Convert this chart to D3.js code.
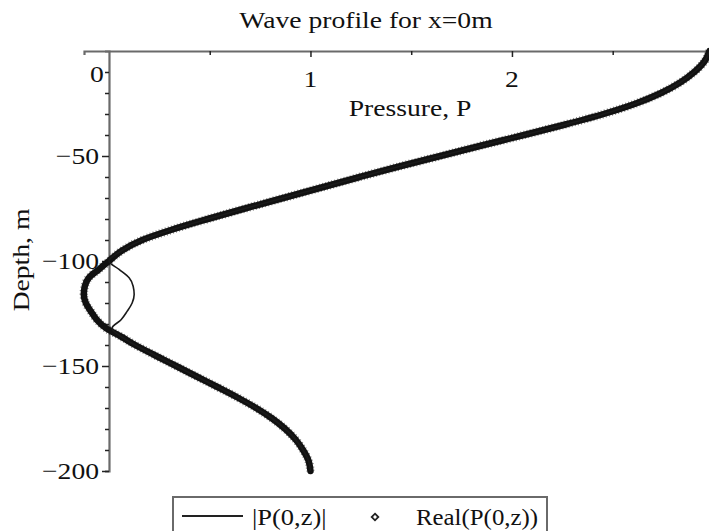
<!DOCTYPE html>
<html>
<head>
<meta charset="utf-8">
<script src="https://cdn.jsdelivr.net/npm/d3@7"></script>
<style>
  body { margin: 0; background: #fff; }
  text { font-family: "Liberation Serif", "Times New Roman", serif; fill: #111; }
</style>
</head>
<body>
<svg id="chart" width="709" height="531"></svg>
<script>
// Depth (m) and pressure
const depths = [0, -5, -10, -15, -20, -25, -30, -35, -40, -45, -50, -55, -60, -65, -70, -75, -80, -85, -90, -95, -100,
  -104, -108, -112, -116, -120, -124, -128, -132, -136, -140, -145, -150, -155, -160, -165, -170, -175, -180, -185, -190, -195, -200];
const realP = [2.98, 2.955, 2.905, 2.835, 2.74, 2.615, 2.455, 2.265, 2.06, 1.85, 1.645, 1.44, 1.245, 1.055, 0.865, 0.675, 0.49, 0.315, 0.165, 0.065, 0.00,
  -0.05, -0.10, -0.12, -0.125, -0.115, -0.09, -0.06, -0.015, 0.06, 0.13, 0.23, 0.333, 0.435, 0.538, 0.638, 0.73, 0.81, 0.875, 0.926, 0.963, 0.99, 1.0];
const absP = [2.98, 2.955, 2.905, 2.835, 2.74, 2.615, 2.455, 2.265, 2.06, 1.85, 1.645, 1.44, 1.245, 1.055, 0.865, 0.675, 0.49, 0.315, 0.165, 0.065, 0.00,
  0.05, 0.10, 0.12, 0.125, 0.115, 0.09, 0.06, 0.015, 0.06, 0.13, 0.23, 0.333, 0.435, 0.538, 0.638, 0.73, 0.81, 0.875, 0.926, 0.963, 0.99, 1.0];

const xTicks = [0.5, 1, 1.5, 2, 2.5];
const xLabels = [1, 2];
const yTicks = [-10, -20, -30, -40, -50, -60, -70, -80, -90, -100, -110, -120, -130, -140, -150, -160, -170, -180, -190, -200];
const yLabels = [-50, -100, -150, -200];

const svg = d3.select('#chart');
const STRETCH = 1.15; // the original text is drawn a little wide

const x = d3.scaleLinear().domain([-0.124, 2.978]).range([84, 709]);
const y = d3.scaleLinear().domain([0, -200]).range([51, 471]);

function stretch(sel, k = STRETCH) {
  sel.each(function () {
    const w = this.getComputedTextLength();
    d3.select(this).attr('textLength', w * k).attr('lengthAdjust', 'spacingAndGlyphs');
  });
}

// x axis along the surface
const gx = svg.append('g').attr('transform', `translate(0,${y(0)})`)
  .call(d3.axisBottom(x).tickValues(xTicks).tickSizeOuter(0).tickSize(4).tickFormat(''));
gx.select('.domain').attr('stroke', '#6a6a6a').attr('stroke-width', 2.2);
gx.selectAll('.tick line').attr('stroke', '#222').attr('stroke-width', 1.5)
  .attr('y2', d => xLabels.includes(d) ? 6 : 4);

// y axis at P = 0
const gy = svg.append('g').attr('transform', `translate(${x(0)},0)`)
  .call(d3.axisLeft(y).tickValues(yTicks).tickSizeOuter(0).tickSize(4).tickFormat(''));
gy.select('.domain').attr('stroke', '#6a6a6a').attr('stroke-width', 2.2);
gy.selectAll('.tick line').attr('stroke', '#222').attr('stroke-width', 1.5)
  .attr('x2', d => yLabels.includes(d) ? -7 : -4);

// tick labels
svg.append('g').selectAll('text').data(xLabels).join('text')
  .attr('x', d => x(d)).attr('y', 87).attr('text-anchor', 'middle')
  .attr('font-size', 24).text(d => d).call(stretch);

svg.append('g').selectAll('text').data(yLabels).join('text')
  .attr('x', 99).attr('y', d => y(d) + 8).attr('text-anchor', 'end')
  .attr('font-size', 24).text(d => '\u2212' + Math.abs(d)).call(stretch);

svg.append('text').attr('x', 97).attr('y', 82).attr('text-anchor', 'middle')
  .attr('font-size', 24).text('0').call(stretch);

// titles
svg.append('text').attr('x', 366).attr('y', 28).attr('text-anchor', 'middle')
  .attr('font-size', 24).text('Wave profile for x=0m').call(stretch);
svg.append('text').attr('x', 410).attr('y', 116).attr('text-anchor', 'middle')
  .attr('font-size', 24).text('Pressure, P').call(stretch);
svg.append('text').attr('transform', 'translate(29,260) rotate(-90)').attr('text-anchor', 'middle')
  .attr('font-size', 24).text('Depth, m').call(stretch);

// curves
const realPts = depths.map((d, i) => [realP[i], d]);
const absPts = depths.map((d, i) => [absP[i], d]);
const line = d3.line().x(d => x(d[0])).y(d => y(d[1])).curve(d3.curveMonotoneY);

// Real part: dense diamond markers, drawn as a thick band with a fine serrated edge
svg.append('path').attr('d', line(realPts)).attr('fill', 'none')
  .attr('stroke', '#222').attr('stroke-width', 8.5).attr('stroke-dasharray', '1 2.2')
  .attr('stroke-opacity', 0.55);
svg.append('path').attr('d', line(realPts)).attr('fill', 'none')
  .attr('stroke', '#111').attr('stroke-width', 6.5).attr('stroke-linecap', 'round');

// |P| thin line
svg.append('path').attr('d', line(absPts)).attr('fill', 'none')
  .attr('stroke', '#1a1a1a').attr('stroke-width', 1.6);

// legend
const leg = svg.append('g');
leg.append('rect').attr('x', 173).attr('y', 497).attr('width', 374).attr('height', 45)
  .attr('fill', '#fff').attr('stroke', '#6a6a6a').attr('stroke-width', 2);
leg.append('line').attr('x1', 182).attr('x2', 243).attr('y1', 516).attr('y2', 516)
  .attr('stroke', '#222').attr('stroke-width', 2);
leg.append('text').attr('x', 252).attr('y', 525).attr('font-size', 23).text('|P(0,z)|').call(stretch);
leg.append('path').attr('d', d3.symbol(d3.symbolDiamond2, 28)()).attr('transform', 'translate(375,517)')
  .attr('fill', 'none').attr('stroke', '#222').attr('stroke-width', 1.8);
leg.append('text').attr('x', 416).attr('y', 525).attr('font-size', 23)
  .text('Real(P(0,z))').call(stretch, 1.08);
</script>
</body>
</html>
